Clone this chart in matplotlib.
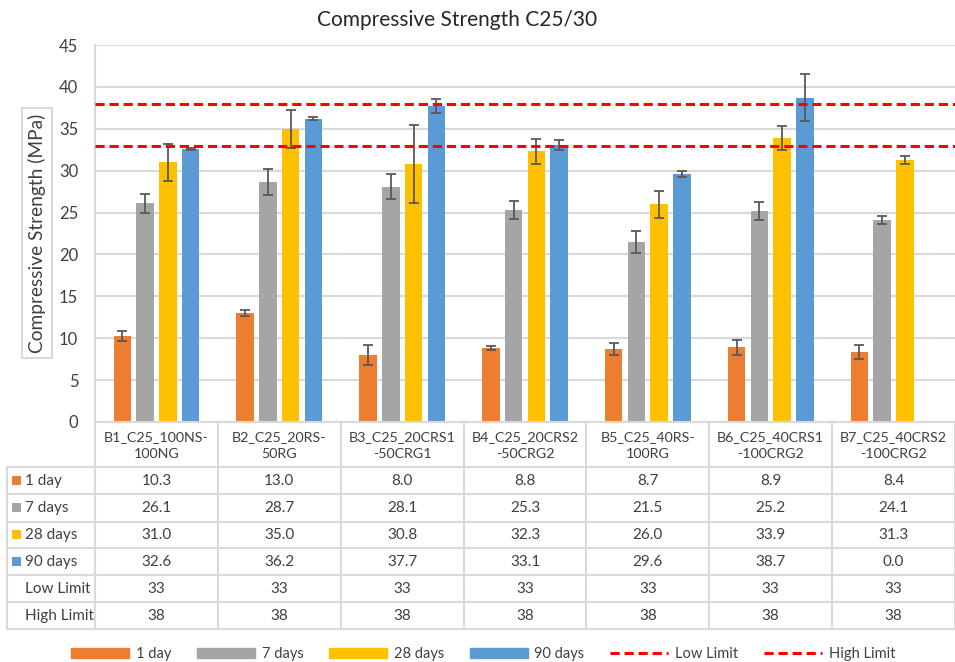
import numpy as np
import matplotlib
matplotlib.use("Agg")
import matplotlib.pyplot as plt
from matplotlib.patches import Patch, Rectangle
from matplotlib.lines import Line2D

plt.rcParams['font.family'] = ['Lato', 'DejaVu Sans']

# data
mixes = ["B1_C25_100NS-\n100NG", "B2_C25_20RS-\n50RG", "B3_C25_20CRS1\n-50CRG1",
         "B4_C25_20CRS2\n-50CRG2", "B5_C25_40RS-\n100RG", "B6_C25_40CRS1\n-100CRG2",
         "B7_C25_40CRS2\n-100CRG2"]
series = ["1 day", "7 days", "28 days", "90 days"]
day1 = [10.3, 13.0, 8.0, 8.8, 8.7, 8.9, 8.4]
day7 = [26.1, 28.7, 28.1, 25.3, 21.5, 25.2, 24.1]
day28 = [31.0, 35.0, 30.8, 32.3, 26.0, 33.9, 31.3]
day90 = [32.6, 36.2, 37.7, 33.1, 29.6, 38.7, 0.0]
err1 = [0.6, 0.4, 1.2, 0.25, 0.7, 0.9, 0.85]
err7 = [1.1, 1.55, 1.5, 1.1, 1.3, 1.1, 0.45]
err28 = [2.2, 2.3, 4.6, 1.45, 1.6, 1.4, 0.45]
err90 = [0.1, 0.2, 0.8, 0.6, 0.35, 2.8, 0.0]
low_limit = [33] * 7
high_limit = [38] * 7

colors = ["#ed7d31", "#a5a5a5", "#ffc000", "#5b9bd5"]
txt = "#404040"
grid = "#d9d9d9"

W, H = 955, 662
fig = plt.figure(figsize=(W / 100, H / 100), dpi=100)
ax = fig.add_axes([95 / W, 1 - 422 / H, 860 / W, 377 / H])

x = np.arange(len(mixes))
vals = [day1, day7, day28, day90]
errs = [err1, err7, err28, err90]
step = 0.185
for i, (v, e) in enumerate(zip(vals, errs)):
    v = np.array(v)
    e = np.array(e)
    pos = x + (i - 1.5) * step
    ax.bar(pos, v, width=0.142, color=colors[i], zorder=2)
    m = v > 0
    ax.errorbar(pos[m], v[m], yerr=e[m], fmt="none", ecolor="#595959",
                elinewidth=1.3, capsize=3.6, capthick=1.3, zorder=3)

ax.axhline(low_limit[0], color="#ff0000", lw=2.2, dashes=(3, 1.6), zorder=4)
ax.axhline(high_limit[0], color="#ff0000", lw=2.2, dashes=(3, 1.6), zorder=4)

ax.set_xlim(-0.5, len(mixes) - 0.5)
ax.set_ylim(0, 45)
ax.set_yticks(range(0, 50, 5))
ax.yaxis.grid(True, color=grid, lw=1.5, zorder=0)
ax.set_axisbelow(True)
ax.set_xticks([])
for s in ["top", "right", "bottom"]:
    ax.spines[s].set_visible(False)
ax.spines["left"].set_color(grid)
ax.spines["left"].set_linewidth(1.5)
ax.tick_params(axis="y", length=0, labelsize=12, colors=txt, pad=12)

fig.text(457 / W, 1 - 20 / H, "Compressive Strength C25/30", ha="center", va="center",
         fontsize=15, color="#262626")
fig.text(37 / W, 1 - 233 / H, "Compressive Strength (MPa)", rotation=90, ha="center",
         va="center", fontsize=13.8, color=txt,
         bbox=dict(boxstyle="square,pad=0.3", fc="white", ec=grid, lw=1.5))

# data table below the axis, drawn in pixel coords
tab = fig.add_axes([0, 0, 1, 1])
tab.set_xlim(0, W)
tab.set_ylim(H, 0)
tab.axis("off")
edges = [ax.transData.transform((k - 0.5, 0))[0] for k in range(len(mixes) + 1)]
top = 422
row_y = [467, 494.3, 521.7, 548.3, 575, 602.3, 629]
left = 7
lc = dict(color=grid, lw=1.5)
for xe in edges:
    tab.plot([xe, xe], [top, row_y[-1]], **lc)
tab.plot([left, left], [row_y[0], row_y[-1]], **lc)
for yy in row_y:
    tab.plot([left, edges[-1]], [yy, yy], **lc)
tab.plot([edges[0], edges[-1]], [top, top], **lc)
for k in range(len(mixes)):
    tab.plot([edges[k], edges[k]], [top, top + 5], **lc)

for k, name in enumerate(mixes):
    cx = (edges[k] + edges[k + 1]) / 2
    tab.text(cx, (top + row_y[0]) / 2 + 1, name, ha="center", va="center",
             fontsize=10.3, color=txt, linespacing=1.45)

row_names = series + ["Low Limit", "High Limit"]
row_vals = [["%.1f" % v for v in day1], ["%.1f" % v for v in day7],
            ["%.1f" % v for v in day28], ["%.1f" % v for v in day90],
            ["%d" % v for v in low_limit], ["%d" % v for v in high_limit]]
for r, (nm, rv) in enumerate(zip(row_names, row_vals)):
    cy = (row_y[r] + row_y[r + 1]) / 2
    if r < 4:
        tab.add_patch(Rectangle((12, cy - 5), 9, 9, color=colors[r], lw=0))
    tab.text(25, cy, nm, ha="left", va="center", fontsize=11, color=txt)
    for k, s in enumerate(rv):
        cx = (edges[k] + edges[k + 1]) / 2
        tab.text(cx, cy, s, ha="center", va="center", fontsize=11, color=txt)

handles = [Patch(color=c) for c in colors] + [
    Line2D([], [], color="#ff0000", lw=2.2, dashes=(3, 1.6)),
    Line2D([], [], color="#ff0000", lw=2.2, dashes=(3, 1.6))]
labels = series + ["Low Limit", "High Limit"]
fig.legend(handles, labels, ncol=6, loc="center", bbox_to_anchor=(483 / W, 1 - 654 / H),
           frameon=False, handlelength=4.0, handleheight=0.65, handletextpad=0.45,
           columnspacing=1.75, fontsize=10.5, labelcolor=txt)

fig.savefig("out.png", dpi=100)
